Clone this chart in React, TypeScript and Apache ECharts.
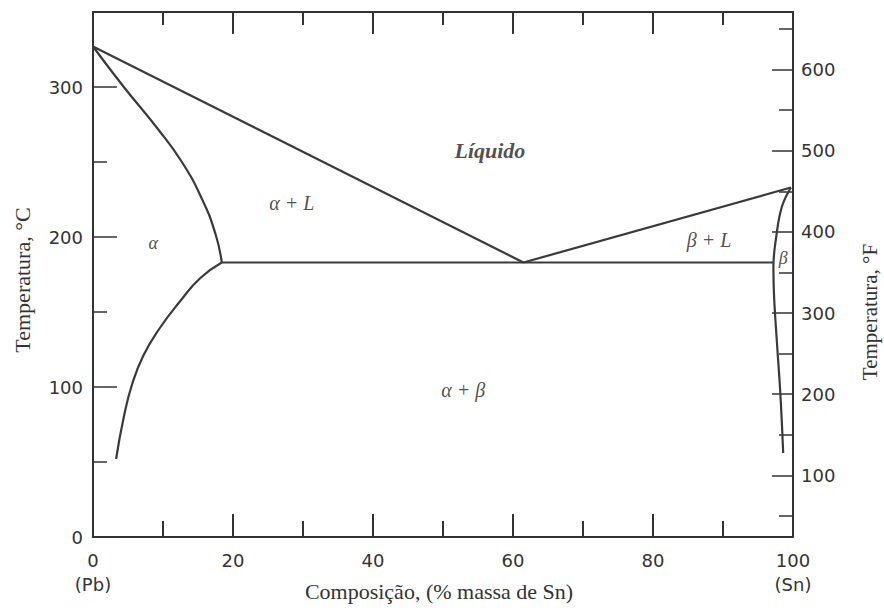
import React, { useEffect, useRef } from "react";
import * as echarts from "echarts";

// Pb–Sn phase diagram: composition (wt% Sn) vs temperature (°C)
const liquidusLeft: [number, number][] = [
  [0, 327],
  [61.5, 183],
];
const liquidusRight: [number, number][] = [
  [61.5, 183],
  [99.7, 233],
];
const solidusAlpha: [number, number][] = [
  [0, 327], [4.4, 300], [9.1, 273], [12.7, 250], [15.6, 225],
  [17.5, 202], [18.4, 183],
];
const solvusAlpha: [number, number][] = [
  [18.4, 183], [15.3, 172.5], [12.5, 157.5], [9.5, 139], [7.2, 121],
  [5.6, 102], [4.4, 80], [3.3, 52],
];
const eutecticLine: [number, number][] = [
  [18.4, 183],
  [97.2, 183],
];
const betaBoundary: [number, number][] = [
  [99.7, 233], [98.4, 220], [97.6, 200], [97.2, 180], [97.3, 160],
  [97.7, 130], [98.2, 95], [98.6, 56],
];

// Phase-field labels
const regionNames = ["Líquido", "α + L", "α", "β + L", "β", "α + β"];
const regionX = [56.7, 28.4, 8.6, 88, 98.6, 52.9];
const regionY = [258, 223, 196, 198, 186, 98];

// Tick values
const compositionMajor = [20, 40, 60, 80];
const compositionMinor = [10, 30, 50, 70, 90];
const celsiusMajor = [0, 100, 200, 300];
const celsiusMinor = [50, 150, 250];
const fahrenheitMajor = [100, 200, 300, 400, 500, 600];
const fahrenheitMinor = [50, 150, 250, 350, 450, 550, 650];

const INK = "#333";
const LINE = "#3a3a3a";
const T_MAX = 350;
const GRID_TOP = 12;
const GRID_BOTTOM = 77;
const HEIGHT = 614;

export default function App() {
  const ref = useRef<HTMLDivElement>(null);

  useEffect(() => {
    if (!ref.current) return;
    const chart = echarts.init(ref.current, undefined, { renderer: "svg" });

    const curve = (data: [number, number][], smooth: number | boolean) => ({
      type: "line",
      data,
      xAxisIndex: 0,
      yAxisIndex: 0,
      showSymbol: false,
      symbol: "none",
      smooth,
      lineStyle: { color: LINE, width: 2.2 },
      silent: true,
    });

    // Vertical tick marks on the composition edges, each one its own short
    // line series; pixel lengths are converted to °C via the plot height.
    const degPerPx = T_MAX / (HEIGHT - GRID_TOP - GRID_BOTTOM);
    const tickSeries = (values: number[], fromEdge: number, px: number) =>
      values.map((v) => {
        const dir = fromEdge === 0 ? 1 : -1;
        return {
          type: "line",
          data: [
            [v, fromEdge],
            [v, fromEdge + dir * px * degPerPx],
          ],
          xAxisIndex: 0,
          yAxisIndex: 0,
          showSymbol: false,
          symbol: "none",
          clip: false,
          lineStyle: { color: INK, width: 2 },
          silent: true,
        };
      });

    const tickFont = {
      fontFamily: "DejaVu Sans",
      fontSize: 18,
      color: INK,
    };
    const tickLine = { color: INK, width: 1.5 };
    const frameLine = { color: INK, width: 2 };

    const labelData = regionNames.map((name, i) => ({
      value: [regionX[i], regionY[i]],
      name,
      label:
        i === 0
          ? { fontWeight: "bold", fontSize: 22 }
          : { fontWeight: "normal", fontSize: i === 2 || i === 4 ? 18 : 20 },
    }));

    chart.setOption({
      animation: false,
      grid: { left: 93, right: 91, top: GRID_TOP, bottom: GRID_BOTTOM, containLabel: false },
      xAxis: [
        {
          type: "value",
          position: "bottom",
          min: 0,
          max: 100,
          interval: 20,
          axisLine: { show: true, onZero: false, lineStyle: frameLine },
          axisTick: { show: true, inside: true, length: 23, lineStyle: { color: INK, width: 2 } },
          minorTick: { show: true, splitNumber: 2, length: 16, lineStyle: { color: INK, width: 2 } },
          splitLine: { show: false },
          minorSplitLine: { show: false },
          axisLabel: {
            ...tickFont,
            margin: 11,
            lineHeight: 24,
            formatter: (v: number) =>
              v === 0 ? "0\n(Pb)" : v === 100 ? "100\n(Sn)" : String(v),
          },
        },
        {
          type: "value",
          position: "top",
          min: 0,
          max: 100,
          interval: 20,
          axisLine: { show: true, onZero: false, lineStyle: frameLine },
          axisTick: { show: false },
          splitLine: { show: false },
          axisLabel: { show: false },
        },
      ],
      yAxis: [
        {
          type: "value",
          position: "left",
          min: 0,
          max: T_MAX,
          axisLine: { show: true, onZero: false, lineStyle: frameLine },
          axisTick: {
            show: true,
            inside: true,
            length: 24,
            customValues: celsiusMajor,
            lineStyle: tickLine,
          },
          splitLine: { show: false },
          axisLabel: { ...tickFont, margin: 10, customValues: celsiusMajor },
        },
        {
          type: "value",
          position: "left",
          min: 0,
          max: T_MAX,
          axisLine: { show: false, onZero: false },
          axisTick: {
            show: true,
            inside: true,
            length: 14,
            customValues: celsiusMinor,
            lineStyle: tickLine,
          },
          splitLine: { show: false },
          axisLabel: { show: false },
        },
        {
          type: "value",
          position: "right",
          min: 24,
          max: 671,
          axisLine: { show: true, onZero: false, lineStyle: frameLine },
          axisTick: {
            show: true,
            inside: true,
            length: 21,
            customValues: fahrenheitMajor,
            lineStyle: tickLine,
          },
          splitLine: { show: false },
          axisLabel: { ...tickFont, margin: 8, customValues: fahrenheitMajor },
        },
        {
          type: "value",
          position: "right",
          min: 24,
          max: 671,
          axisLine: { show: false, onZero: false },
          axisTick: {
            show: true,
            inside: true,
            length: 14,
            customValues: fahrenheitMinor,
            lineStyle: tickLine,
          },
          splitLine: { show: false },
          axisLabel: { show: false },
        },
      ],
      series: [
        curve(liquidusLeft, false),
        curve(liquidusRight, false),
        curve(solidusAlpha, 0.5),
        curve(solvusAlpha, 0.5),
        curve(eutecticLine, false),
        curve(betaBoundary, 0.4),
        ...tickSeries(compositionMajor, 0, 23),
        ...tickSeries(compositionMinor, 0, 16),
        ...tickSeries(compositionMajor, T_MAX, 22),
        ...tickSeries(compositionMinor, T_MAX, 13),
        {
          type: "scatter",
          xAxisIndex: 0,
          yAxisIndex: 0,
          symbolSize: 0,
          itemStyle: { color: "transparent" },
          silent: true,
          data: labelData,
          label: {
            show: true,
            position: "inside",
            formatter: (p: any) => p.name,
            fontFamily: "Liberation Serif",
            fontStyle: "italic",
            color: "#222",
            align: "center",
            verticalAlign: "middle",
          },
        },
      ],
      graphic: [
        {
          type: "text",
          x: 22,
          y: 280,
          rotation: Math.PI / 2,
          style: {
            text: "Temperatura, °C",
            font: "22px 'Liberation Serif'",
            fill: INK,
            align: "center",
            verticalAlign: "middle",
          },
        },
        {
          type: "text",
          x: 870,
          y: 312,
          rotation: Math.PI / 2,
          style: {
            text: "Temperatura, °F",
            font: "21px 'Liberation Serif'",
            fill: INK,
            align: "center",
            verticalAlign: "middle",
          },
        },
        {
          type: "text",
          x: 439,
          y: 591,
          style: {
            text: "Composição, (% massa de Sn)",
            font: "22px 'Liberation Serif'",
            fill: INK,
            align: "center",
            verticalAlign: "middle",
          },
        },
      ],
    });

    return () => chart.dispose();
  }, []);

  return (
    <div
      ref={ref}
      style={{ position: "absolute", left: 0, top: 0, width: 884, height: 614, background: "#fff" }}
    />
  );
}
